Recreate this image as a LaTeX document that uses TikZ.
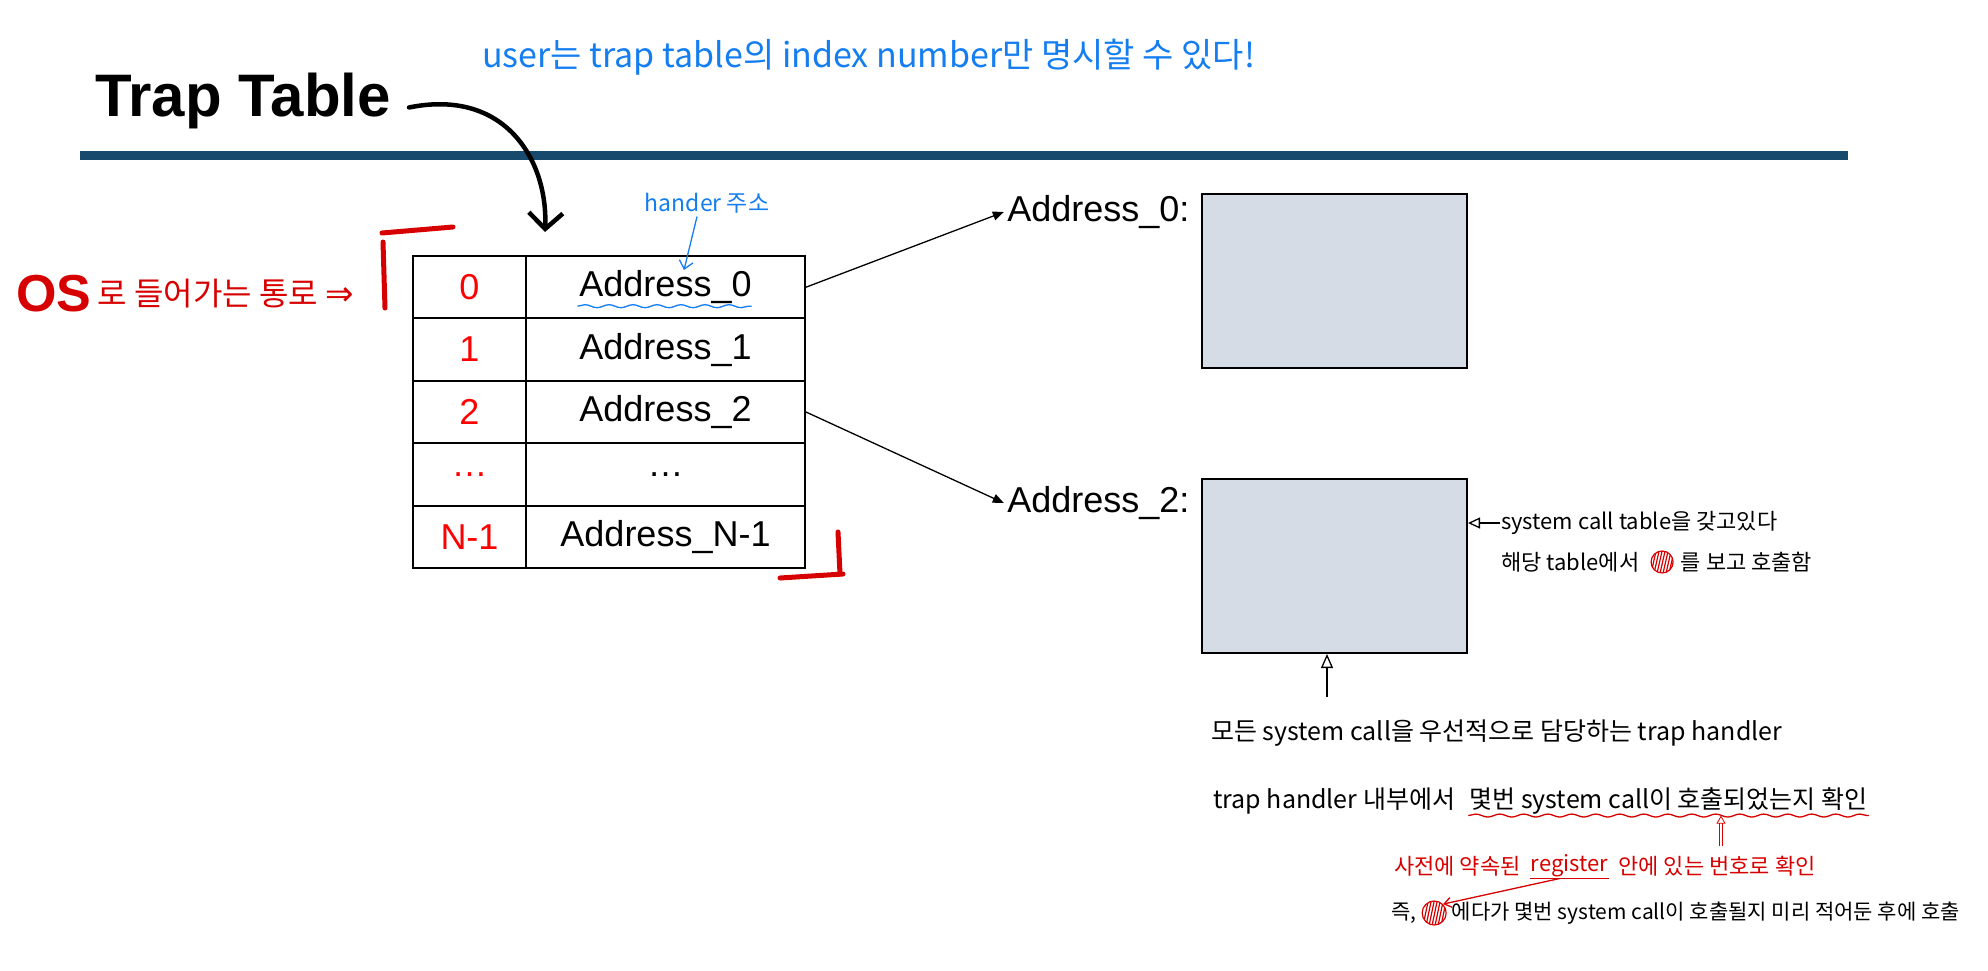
\documentclass[tikz,border=0pt]{standalone}
\usepackage{fontspec}
\setmainfont{Liberation Sans}
\newfontfamily\hand{Noto Sans CJK KR}
\newfontfamily\symb{DejaVu Sans}
\usetikzlibrary{arrows.meta,positioning,calc,decorations.pathmorphing}

\definecolor{hdrblue}{RGB}{24,74,110}
\definecolor{boxfill}{RGB}{214,220,229}
\definecolor{penblue}{RGB}{20,125,240}
\definecolor{penred}{RGB}{215,0,0}
\newcommand{\fsz}[1]{\fontsize{#1}{#1}\selectfont}

\tikzset{
  cell/.style={draw, line width=2pt, inner sep=0pt, minimum height=62.4pt, font=\fsz{36}},
  handlerbox/.style={draw, line width=2pt, fill=boxfill, minimum width=265pt, minimum height=174pt, inner sep=0pt},
  note/.style={font=\hand\fsz{#1}, inner sep=1pt},
  note/.default=22,
  scribble/.style={circle, draw=penred, line width=1.2pt, minimum size=#1, inner sep=0pt,
    path picture={\foreach \k in {-3,...,3}
      \draw[penred, line width=1.2pt] ([xshift=\k*3pt-2pt]path picture bounding box.south) -- ([xshift=\k*3pt+3pt]path picture bounding box.north);}},
  link/.style={-{Triangle[length=11pt,width=9pt]}, line width=1.3pt},
  wavy/.style={decorate, decoration={snake, amplitude=1.5pt, segment length=24pt}},
}

\begin{document}
\begin{tikzpicture}[x=1pt,y=-1pt]
  \useasboundingbox (0,0) rectangle (1988,971);

  % Title and header rule
  \node[anchor=base west, inner sep=0pt, font=\fsz{60}\bfseries] (title) at (95,117) {Trap Table};
  \draw[hdrblue, line width=9pt] (80,155) -- (1848,155);

  % Trap table
  \foreach \i/\n/\a in {0/0/Address\_0, 1/1/Address\_1, 2/2/Address\_2, 3/\ldots/\ldots, 4/N-1/Address\_N-1} {
    \node[cell, minimum width=113pt, text=red] (idx\i) at (469.5, 287.2+62.4*\i) {\n};
    \node[cell, minimum width=279pt] (addr\i) at (665.5, 287.2+62.4*\i) {\a};
  }

  % Handler boxes
  \node[handlerbox] (box0) at (1334.5,281) {};
  \node[handlerbox] (box2) at (1334.5,566) {};
  \node[anchor=east, font=\fsz{36}] (lab0) at (1193,212) {Address\_0:};
  \node[anchor=east, font=\fsz{36}] (lab2) at (1193,503) {Address\_2:};
  \draw[link] (addr0.east) -- (lab0.west);
  \draw[link] (addr2.east) -- (lab2.west);

  % Pen arrow from the title
  \coordinate (tabtop) at (545,232);
  \draw[line width=4.5pt, line cap=round, -{Straight Barb[length=16pt,width=34pt]}]
    ([xshift=18pt,yshift=-6pt]title.east) .. controls (505,88) and (548,160) .. (tabtop);

  % Blue notes
  \node[anchor=west, font=\hand\fsz{34}, text=penblue, inner sep=0pt] (usernote) at (482,57)
    {user는 trap table의 index number만 명시할 수 있다!};
  \node[font=\hand\fsz{23}, text=penblue] (hndnote) at (707,203) {hander 주소};
  \coordinate (hndtip) at (684,270);
  \draw[penblue, line width=1.3pt, -{Straight Barb[length=8pt,width=14pt]}] ([xshift=-10pt]hndnote.south) -- (hndtip);
  \draw[penblue, line width=1.3pt, wavy] ($(addr0.center)+(-88,19)$) -- ($(addr0.center)+(86,19)$);

  % Red notes on the left
  \node[anchor=west, inner sep=0pt, font=\bfseries\fsz{52}, text=penred] (osnote) at (16,294) {OS};
  \node[right=6pt of osnote, inner sep=0pt, font=\hand\fsz{32}, text=penred] (gate) {로 들어가는 통로 {\symb\fsz{34}⇒}};
  \draw[penred, line width=5pt, line cap=round] (382,233) -- (453,227);
  \draw[penred, line width=5pt, line cap=round] (383,242) -- (385,308);
  \draw[penred, line width=5pt, line cap=round] (780,578) -- (843,574);
  \draw[penred, line width=5pt, line cap=round] (838,532) -- (840,574);

  % Notes on the system call table
  \node[note, anchor=west] (sctable) at (1500,523) {system call table을 갖고있다};
  \draw[line width=1.3pt, -{Triangle[open,length=12pt,width=11pt]}] (sctable.west) -- (box2.east |- sctable.west);
  \node[note, anchor=west] (lookup) at (1500,562) {해당 table에서};
  \node[scribble=22pt, right=10pt of lookup] (mark1) {};
  \node[note, right=6pt of mark1] (callit) {를 보고 호출함};

  % Trap handler notes
  \coordinate (upfoot) at (1327,697);
  \draw[line width=1.3pt, -{Triangle[open,length=14pt,width=12pt]}] (upfoot) -- (upfoot |- box2.south);
  \node[note=25, anchor=west] (allcalls) at (1210,733) {모든 system call을 우선적으로 담당하는 trap handler};
  \node[note=25, anchor=west] (inside) at (1212,801) {trap handler 내부에서};
  \node[note=25, right=12pt of inside] (which) {몇번 system call이 호출되었는지 확인};
  \draw[penred, line width=1.3pt, wavy] (which.south west) -- (which.south east);
  \coordinate (regfoot) at (1721,846);
  \draw[penred, line width=0.8pt, double, double distance=2pt, -{Triangle[open,length=8pt,width=9pt]}] (regfoot) -- (regfoot |- which.south);
  \node[note, anchor=west, text=penred] (agreed) at (1393,866) {사전에 약속된};
  \node[note, right=8pt of agreed, text=penred] (reg) {register};
  \node[note, right=8pt of reg, text=penred] (regnum) {안에 있는 번호로 확인};
  \draw[penred, line width=1.3pt] (reg.south west) -- (reg.south east);
  \node[note=21, anchor=west] (namely) at (1390,913) {즉,};
  \node[scribble=24pt, right=4pt of namely] (mark2) {};
  \node[note=21, right=4pt of mark2] (beforehand) {에다가 몇번 system call이 호출될지 미리 적어둔 후에 호출};
  \draw[penred, line width=1.3pt, -{Straight Barb[length=7pt,width=10pt]}] ([xshift=30pt]reg.south west) -- (mark2.north east);
\end{tikzpicture}
\end{document}
